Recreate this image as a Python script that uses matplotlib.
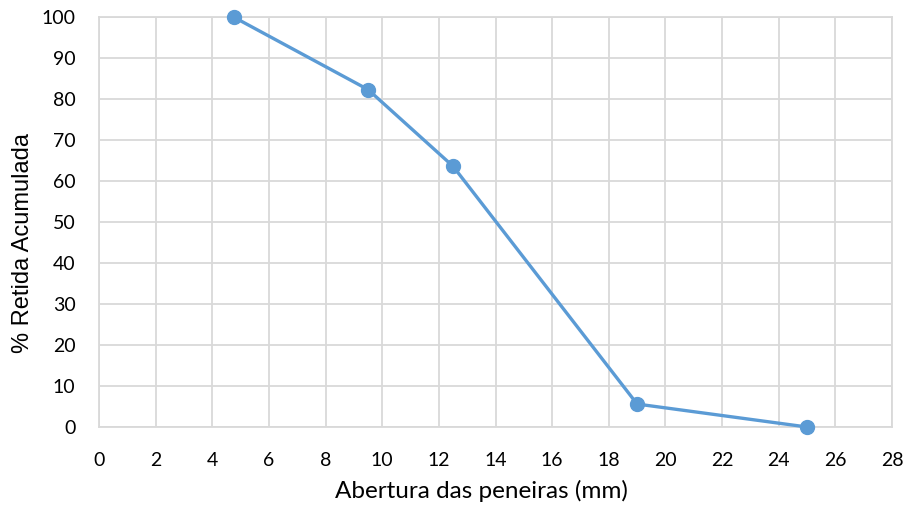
import matplotlib.pyplot as plt

# Dados da curva granulométrica
abertura = [4.75, 9.5, 12.5, 19.0, 25.0]
retida_acum = [100.0, 82.3, 63.6, 5.6, 0.0]

x_ticks = list(range(0, 29, 2))
y_ticks = list(range(0, 101, 10))

fig = plt.figure(figsize=(9.1, 5.12), dpi=100)
ax = fig.add_axes([99 / 910, 1 - 427 / 512, (892 - 99) / 910, (427 - 17) / 512])

grid_color = '#d9d9d9'
ax.plot(abertura, retida_acum, color='#5b9bd5', linewidth=2.4,
        marker='o', markersize=10, zorder=3, clip_on=False)

ax.set_xlim(0, 28)
ax.set_ylim(0, 100)
ax.set_xticks(x_ticks)
ax.set_yticks(y_ticks)
ax.grid(True, color=grid_color, linewidth=1.3)
ax.set_axisbelow(True)
for s in ax.spines.values():
    s.set_color(grid_color)
    s.set_linewidth(1.3)
ax.tick_params(length=0, labelsize=14)
ax.tick_params(axis='x', pad=18)
ax.tick_params(axis='y', pad=17)
for lbl in ax.get_xticklabels() + ax.get_yticklabels():
    lbl.set_family('Lato')

ax.set_xlabel('Abertura das peneiras (mm)', fontsize=17.5, family='Lato',
              labelpad=8, x=0.482)
ax.set_ylabel('% Retida Acumulada', fontsize=17, family='Liberation Sans',
              labelpad=5, y=0.449)

plt.savefig('out.png', dpi=100)
